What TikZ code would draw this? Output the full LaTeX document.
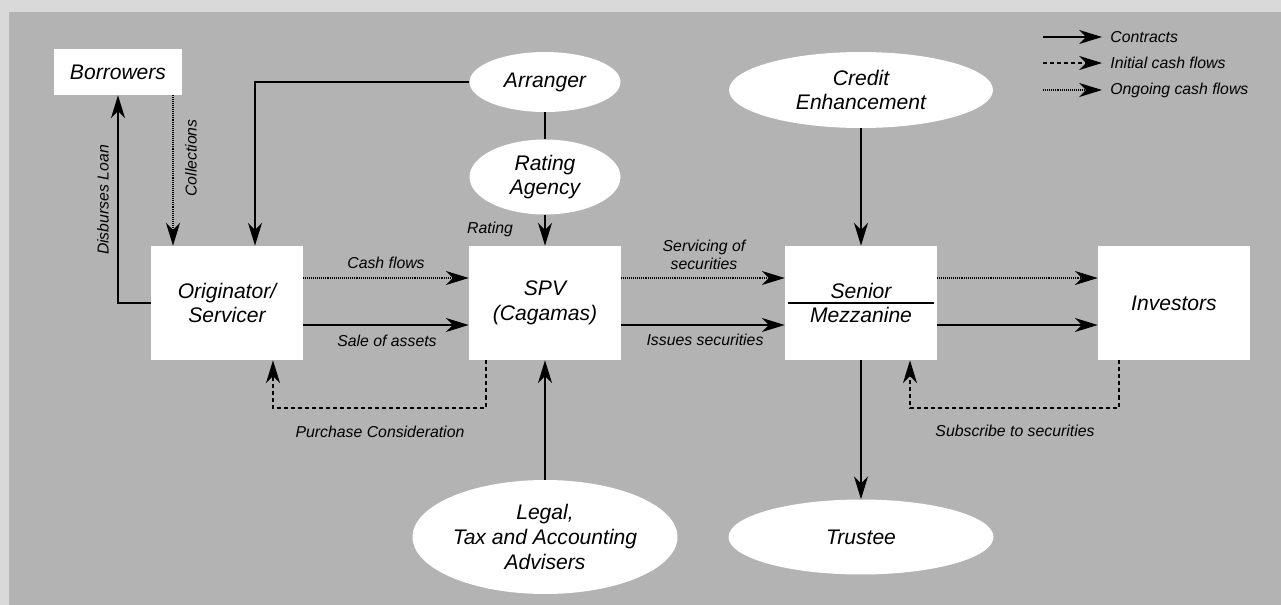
\documentclass[tikz,border=0pt]{standalone}
\usepackage{fontspec}
\setmainfont{Liberation Sans}
\usetikzlibrary{arrows.meta,shapes.geometric}

\definecolor{bandgray}{RGB}{217,217,217}
\definecolor{panelgray}{RGB}{179,179,179}
\newcommand{\bigtxt}{\fontsize{12}{14}\selectfont\itshape}
\newcommand{\smalltxt}{\fontsize{9}{10.5}\selectfont\itshape}

\begin{document}
\begin{tikzpicture}[x=0.02cm,y=-0.02cm,
    box/.style={fill=white,minimum width=3.04cm,minimum height=2.28cm,inner sep=0pt,align=center,font=\bigtxt},
    oval/.style={ellipse,fill=white,inner sep=0pt,align=center,font=\bigtxt},
    lbl/.style={font=\smalltxt,align=center,inner sep=0pt},
    contract/.style={-{Stealth[length=13pt,width=8pt,inset=4pt]},line width=0.75pt},
    initial/.style={contract,dash pattern=on 2.3pt off 1.7pt},
    ongoing/.style={contract,line width=0.6pt,dash pattern=on 0.5pt off 0.6pt}]
            \useasboundingbox (0,0) rectangle (1281,605);
            \fill[bandgray] (0,0) rectangle (1281,605);
            \fill[panelgray] (9,12) rectangle (1281,605);
            
            \node[box,minimum width=2.58cm,minimum height=0.92cm] (borrowers) at (118,72) {Borrowers};
            \node[box] (orig) at (227,303) {Originator/\\Servicer};
            \node[box] (spv) at (545,303) {SPV\\(Cagamas)};
            \node[box] (senior) at (861,303) {Senior\\Mezzanine};
            \node[box] (investors) at (1174,303) {Investors};
            \draw[line width=0.75pt] ([xshift=0.06cm]senior.west) -- ([xshift=-0.06cm]senior.east);
            
            \node[oval,minimum width=3.02cm,minimum height=1.2cm] (arranger) at (545,82) {Arranger};
            \node[oval,minimum width=3.02cm,minimum height=1.5cm] (rating) at (545,177) {Rating\\Agency};
            \node[oval,minimum width=5.28cm,minimum height=1.52cm] (credit) at (861,90) {Credit\\Enhancement};
            \node[oval,minimum width=5.3cm,minimum height=2.28cm] (legal) at (545,537) {Legal,\\Tax and Accounting\\Advisers};
            \node[oval,minimum width=5.3cm,minimum height=1.5cm] (trustee) at (861,537) {Trustee};
            
            \coordinate (colx) at (173,0);
            \coordinate (arrx) at (255,0);
            \coordinate (pc1) at (486,408);
            \coordinate (pc2) at (273,408);
            \coordinate (sb1) at (1119,408);
            \coordinate (sb2) at (910,408);
            
            \draw[contract] (orig.west) -| (borrowers.south);
            \draw[ongoing] (borrowers.south -| colx) -- (orig.north -| colx);
            \draw[contract] (arranger.west) -| (orig.north -| arrx);
            \draw[line width=0.75pt] (arranger) -- (rating);
            \draw[contract] (rating) -- (spv);
            \draw[contract] (credit) -- (senior);
            \draw[contract] (legal) -- (spv);
            \draw[contract] (senior) -- (trustee);
            
            \draw[ongoing] ([yshift=0.5cm]orig.east) -- ([yshift=0.5cm]spv.west);
            \draw[contract] ([yshift=-0.44cm]orig.east) -- ([yshift=-0.44cm]spv.west);
            \draw[ongoing] ([yshift=0.5cm]spv.east) -- ([yshift=0.5cm]senior.west);
            \draw[contract] ([yshift=-0.44cm]spv.east) -- ([yshift=-0.44cm]senior.west);
            \draw[ongoing] ([yshift=0.5cm]senior.east) -- ([yshift=0.5cm]investors.west);
            \draw[contract] ([yshift=-0.44cm]senior.east) -- ([yshift=-0.44cm]investors.west);
            
            \draw[initial] (spv.south -| pc1) -- (pc1) -- (pc2) -- (orig.south -| pc2);
            \draw[initial] (investors.south -| sb1) -- (sb1) -- (sb2) -- (senior.south -| sb2);
            
            \node[lbl,rotate=90] (ldisb) at (103,200) {Disburses Loan};
            \node[lbl,rotate=90] (lcoll) at (191,158) {Collections};
            \node[lbl] (lcash) at (386,263) {Cash flows};
            \node[lbl] (lsale) at (387,341) {Sale of assets};
            \node[lbl] (lserv) at (704,255) {Servicing of\\securities};
            \node[lbl] (lissue) at (705,340) {Issues securities};
            \node[lbl] (lrating) at (490,229) {Rating};
            \node[lbl] (lpurch) at (380,432) {Purchase Consideration};
            \node[lbl] (lsubs) at (1015,431) {Subscribe to securities};
            
            \coordinate (k1a) at (1043,37);
            \coordinate (k1b) at (1102,37);
            \coordinate (k2a) at (1043,63);
            \coordinate (k2b) at (1102,63);
            \coordinate (k3a) at (1043,90);
            \coordinate (k3b) at (1102,90);
            \draw[contract] (k1a) -- (k1b);
            \draw[initial] (k2a) -- (k2b);
            \draw[ongoing] (k3a) -- (k3b);
            \node[lbl,anchor=west] (key1) at (1110,37) {Contracts};
            \node[lbl,anchor=west] (key2) at (1110,63) {Initial cash flows};
            \node[lbl,anchor=west] (key3) at (1110,90) {Ongoing cash flows};
            
        \end{tikzpicture}
\end{document}
